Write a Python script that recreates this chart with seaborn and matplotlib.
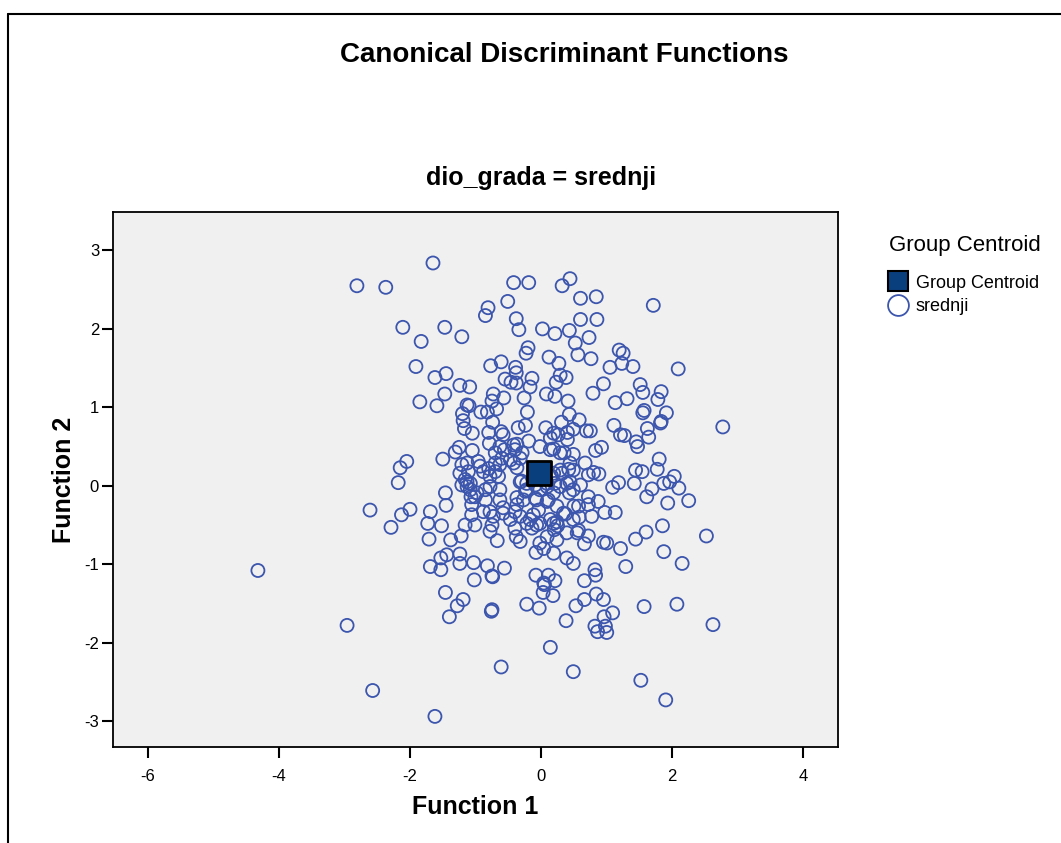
import numpy as np
import pandas as pd
import matplotlib
matplotlib.use("Agg")
import matplotlib.pyplot as plt
import seaborn as sns
from matplotlib.lines import Line2D

# discriminant scores of the cases (Function 1, Function 2)
fn1 = [
    # upper left
    -1.65, -2.81, -2.37, -2.11, -1.47, -1.83, -1.91, -1.62, -1.45, -1.47, -1.85, -1.59, -1.50, -2.05, -2.15, -2.18,
    # upper centre
    -0.42, -0.19, 0.32, 0.44, 0.60, 0.84, -0.51, -0.81, -0.85, -0.38,
    -0.34, -1.21, 0.02, 0.21, 0.43, 0.60, 0.85, 1.71, 0.52, 0.73,
    -0.20, -0.23, 0.12, 0.56, 0.76, 1.19, 1.25, -0.77, -0.61, 0.27,
    1.05, 1.23, 1.40, 2.09, -0.39, -0.38, -0.55, -0.38, -0.46, -0.14,
    -0.17, 0.29, 0.38, 0.23, -1.24, -1.09, 0.95, 1.51, 1.55, 1.83,
    1.78, -0.73, -0.57, -0.26, 0.08, 0.21, 0.41, 0.79, 1.13, 1.31,
    -0.75, -1.13, -1.10, -0.68, -0.92, -0.82, -0.21, -1.20, -1.19, -0.74,
    0.43, 1.55, 1.57, 1.91, -1.17, -1.05, -0.80, -0.61, -0.35, -0.24,
    0.07, 0.31, 0.58, 1.11, 1.62, 1.82, 1.83, 2.77, 0.69, 0.75,
    1.21, 1.27, 1.45, 1.47, 1.64, 0.49, 0.19, 0.14, 0.40, 0.40,
    0.26, -0.79, -0.58, -0.42, -0.19, -0.37, -1.25, -1.31, -1.05, 0.19,
    0.35, 0.49, 0.83, 0.92, 1.80, -0.70, -0.56, -0.29,
    # centre left
    -1.46, -1.45, -2.00, -2.13, -2.29, -1.69, -1.73, -1.52, -1.71, -1.38,
    -1.22, -1.69, -1.53, -1.44, -1.24, -1.24, -1.03, -0.82, -0.56, -1.06,
    -1.01, -1.06, -1.07, -0.98, -0.85, -0.78, -0.75, -0.78, -0.67, -0.63,
    -0.58, -0.47, -0.37, -0.40, -0.38, -0.40, -0.32, -0.22, -0.14, -0.07,
    -0.02, 0.04, 0.19, -0.12, -0.04, 0.19, 0.20, 0.09, -0.08, -0.27,
    -0.09, 0.09, 0.19, 0.09, -0.22, -0.32, -0.24, -0.37, -0.63, -0.78,
    -1.08, -1.21, -1.13, -1.13, -1.24, -1.11, -1.21, -1.13, -0.96, -0.88,
    -0.78, -0.70, -0.65, -0.80, -0.70, -0.60, -0.42, -0.37, -0.30, -0.02,
    0.21, 0.19,
    # dense middle
    -0.63, -0.40, -0.32, -0.47, -0.63, -0.93, -1.16, -1.08, -0.85, -1.01,
    -0.07, -0.22, -0.09, 0.09, 0.16, 0.29, 0.44, 0.29, 0.14, -0.02,
    0.39, 0.49, 0.11, 0.24, 0.34, 0.14, -0.02, -0.17, -0.32, -0.58,
    -0.73, -0.88, -1.16, 0.49, 0.57,
    # centre right
    1.44, 1.54, 1.77, 2.03, 1.96, 1.87, 2.10, 2.25, 1.93, 1.69,
    1.61, 1.42, 1.18, 1.09, 0.88, 0.80, 0.72, 0.67, 0.49, 0.42,
    0.32, 0.44, 0.60, 0.43, 0.29, 0.72, 0.87, 0.72, 0.50, 0.37,
    0.58, 0.77, 0.97, 1.13, 0.24, 0.25, 0.39, 0.55, 0.57, 0.72,
    0.66, 0.95, 1.00, 1.21, 1.44, 1.60, 1.85, 2.52, 1.87, 2.15,
    1.29, 0.82, 0.39, 0.49, 0.24,
    # lower part and outliers
    -1.53, -1.02, -0.75, -0.74, -1.46, -1.19, -1.28, -1.40, -0.75, -0.76,
    -0.08, 0.11, 0.04, 0.05, 0.21, 0.03, 0.18, -0.22, -0.03, 0.14,
    -0.61, -1.62, 0.66, 0.83, 0.53, 0.66, 0.84, 0.95, 1.09, 0.96,
    0.82, 0.98, 0.86, 1.00, 0.38, 1.57, 2.07, 2.62, 0.49, 1.52,
    1.90, -2.61, -4.32, -2.96, -2.57,
]
fn2 = [
    2.84, 2.55, 2.53, 2.02, 2.02, 1.84, 1.52, 1.38, 1.43, 1.17, 1.07, 1.02, 0.34, 0.31, 0.23, 0.04,
    2.59, 2.59, 2.55, 2.64, 2.39, 2.41, 2.35, 2.27, 2.17, 2.13,
    1.99, 1.90, 2.00, 1.94, 1.98, 2.12, 2.12, 2.30, 1.82, 1.89,
    1.76, 1.69, 1.64, 1.67, 1.62, 1.73, 1.69, 1.53, 1.58, 1.56,
    1.51, 1.56, 1.52, 1.49, 1.51, 1.44, 1.36, 1.31, 1.32, 1.37,
    1.26, 1.41, 1.38, 1.32, 1.28, 1.26, 1.30, 1.29, 1.19, 1.20,
    1.10, 1.17, 1.12, 1.12, 1.17, 1.14, 1.08, 1.18, 1.06, 1.11,
    1.08, 1.03, 1.02, 0.98, 0.94, 0.94, 0.94, 0.92, 0.83, 0.81,
    0.91, 0.93, 0.96, 0.93, 0.73, 0.67, 0.68, 0.69, 0.74, 0.77,
    0.74, 0.81, 0.84, 0.77, 0.73, 0.80, 0.82, 0.75, 0.70, 0.70,
    0.65, 0.64, 0.56, 0.50, 0.62, 0.72, 0.67, 0.61, 0.68, 0.59,
    0.65, 0.54, 0.65, 0.52, 0.57, 0.53, 0.49, 0.43, 0.45, 0.47,
    0.42, 0.40, 0.45, 0.49, 0.34, 0.42, 0.46, 0.42,
    -0.09, -0.25, -0.30, -0.37, -0.53, -0.33, -0.48, -0.51, -0.68, -0.69,
    -0.64, -1.03, -0.92, -0.88, -0.87, -0.99, -0.98, -1.02, -1.05, -0.37,
    -0.50, -0.24, -0.14, -0.09, -0.18, -0.33, -0.50, -0.58, -0.70, -0.18,
    -0.28, -0.43, -0.24, -0.33, -0.65, -0.54, -0.71, -0.48, -0.54, -0.50,
    -0.73, -0.80, -0.86, -0.37, -0.31, -0.48, -0.56, -0.65, -0.85, -0.18,
    -0.16, -0.20, -0.09, 0.03, 0.03, 0.05, -0.07, -0.15, -0.05, -0.01,
    0.03, 0.01, 0.05, -0.01, 0.16, 0.18, 0.27, 0.29, 0.31, 0.18,
    0.12, 0.18, 0.12, 0.22, 0.29, 0.35, 0.29, 0.23, 0.06, -0.05,
    0.03, 0.16,
    0.50, 0.46, 0.35, 0.33, 0.27, 0.25, 0.08, -0.05, -0.05, -0.14,
    -0.18, -0.05, 0.01, -0.01, 0.12, 0.20, 0.29, 0.42, 0.46, 0.50,
    0.03, -0.05, -0.18, -0.26, -0.35, -0.43, -0.48, -0.43, -0.39, -0.35,
    -0.39, -0.33, -0.50, -0.43, -0.26,
    0.20, 0.18, 0.21, 0.12, 0.05, 0.03, -0.03, -0.19, -0.22, -0.04,
    -0.14, 0.03, 0.04, -0.02, 0.15, 0.17, 0.14, 0.29, 0.20, 0.21,
    0.16, 0.05, 0.01, -0.09, -0.01, -0.14, -0.20, -0.24, -0.26, -0.36,
    -0.40, -0.39, -0.34, -0.34, -0.46, -0.51, -0.60, -0.60, -0.57, -0.64,
    -0.74, -0.72, -0.73, -0.80, -0.68, -0.59, -0.51, -0.64, -0.84, -0.99,
    -1.03, -1.07, -0.92, -0.99, -0.69,
    -1.07, -1.20, -1.15, -1.16, -1.36, -1.45, -1.53, -1.67, -1.58, -1.60,
    -1.14, -1.14, -1.24, -1.26, -1.21, -1.36, -1.40, -1.51, -1.56, -2.06,
    -2.31, -2.94, -1.21, -1.14, -1.53, -1.45, -1.38, -1.45, -1.62, -1.67,
    -1.79, -1.79, -1.86, -1.87, -1.72, -1.54, -1.51, -1.77, -2.37, -2.48,
    -2.73, -0.31, -1.08, -1.78, -2.61,
]
centroid_fn1 = [-0.04]
centroid_fn2 = [0.16]

x_ticks = [-6, -4, -2, 0, 2, 4]
y_ticks = [-3, -2, -1, 0, 1, 2, 3]

group_name = "srednji"
circle_color = "#3c55ad"
centroid_color = "#0a3f7e"

assert len(fn1) == len(fn2)
df = pd.DataFrame({"Function 1": fn1, "Function 2": fn2, "group": group_name})
df_cent = pd.DataFrame({"Function 1": centroid_fn1, "Function 2": centroid_fn2})

sns.set_style("white")
plt.rcParams["font.family"] = ["Liberation Sans", "DejaVu Sans"]
plt.rcParams["axes.unicode_minus"] = False
plt.rcParams["text.color"] = "black"
plt.rcParams["axes.labelcolor"] = "black"
plt.rcParams["xtick.color"] = "black"
plt.rcParams["ytick.color"] = "black"

fig = plt.figure(figsize=(10.61, 8.43), dpi=100)
ax = fig.add_axes([0.1065, 0.1139, 0.6835, 0.6346])
ax.set_facecolor("#f0f0f0")

sns.scatterplot(data=df, x="Function 1", y="Function 2", ax=ax, marker="o", s=88,
                facecolor="none", edgecolor=circle_color, linewidth=1.3, legend=False)
sns.scatterplot(data=df_cent, x="Function 1", y="Function 2", ax=ax, marker="s", s=290,
                color=centroid_color, edgecolor="black", linewidth=2, legend=False, zorder=5)

ax.set_xlim(-6.53, 4.53)
ax.set_ylim(-3.33, 3.49)
ax.set_xticks(x_ticks)
ax.set_yticks(y_ticks)
ax.tick_params(direction="out", length=8, width=1.5, labelsize=12,
               bottom=True, left=True, top=False, right=False)
ax.tick_params(axis="x", pad=8)
ax.tick_params(axis="y", pad=2)
for sp in ax.spines.values():
    sp.set_color("black")
    sp.set_linewidth(1.3)

ax.set_xlabel("Function 1", fontsize=18, fontweight="bold", labelpad=8)
ax.set_ylabel("Function 2", fontsize=18, fontweight="bold", labelpad=6)

fig.text(564 / 1061, 1 - 55 / 843, "Canonical Discriminant Functions",
         ha="center", va="center", fontsize=20, fontweight="bold")
fig.text(541 / 1061, 1 - 178 / 843, "dio_grada = " + group_name,
         ha="center", va="center", fontsize=18, fontweight="bold")

# legend title drawn separately to get the same gap as the original
fig.text(889 / 1061, 1 - 246 / 843, "Group Centroid", ha="left", va="center", fontsize=16)
handles = [
    Line2D([], [], linestyle="none", marker="s", markersize=15,
           markerfacecolor=centroid_color, markeredgecolor="black", markeredgewidth=1.5),
    Line2D([], [], linestyle="none", marker="o", markersize=15,
           markerfacecolor="none", markeredgecolor=circle_color, markeredgewidth=1.3),
]
leg = fig.legend(handles, ["Group Centroid", group_name], loc="upper left",
                 bbox_to_anchor=(876 / 1061, 1 - 262 / 843), frameon=False, fontsize=13,
                 handlelength=1.0, handletextpad=0.5, labelspacing=0.37, borderpad=0.2)

# outer frame of the output viewer
fig.add_artist(Line2D([8 / 1061, 8 / 1061], [0, 1 - 14 / 843], color="black", lw=1.5,
                      transform=fig.transFigure))
fig.add_artist(Line2D([8 / 1061, 1], [1 - 14 / 843, 1 - 14 / 843], color="black", lw=1.5,
                      transform=fig.transFigure))

fig.savefig("out.png", dpi=100)
